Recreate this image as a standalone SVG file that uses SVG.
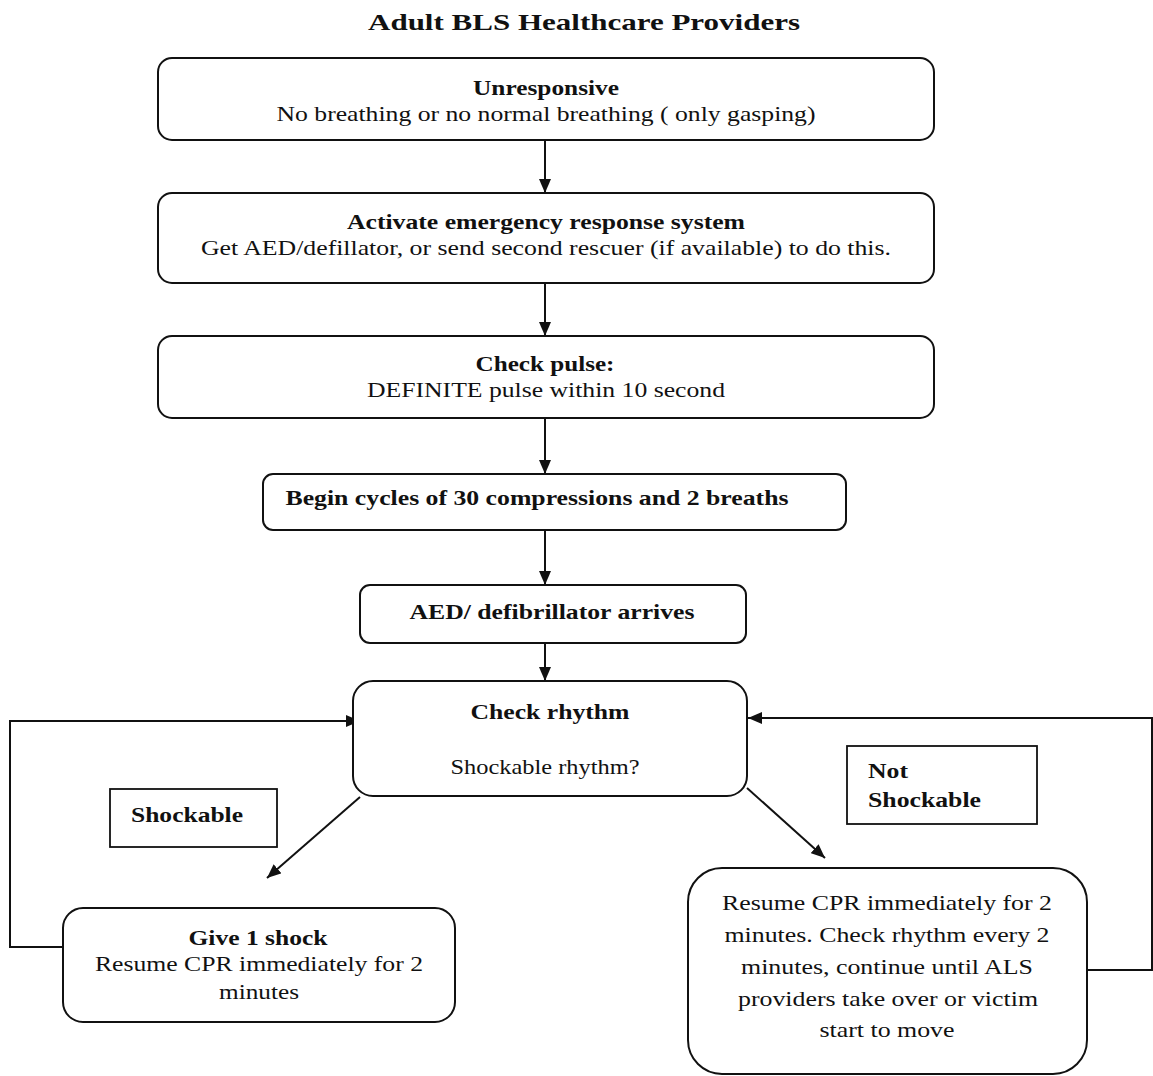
<svg xmlns="http://www.w3.org/2000/svg" width="1153" height="1076" viewBox="0 0 1153 1076">
<style>
text{font-family:'Liberation Serif','Times New Roman',Tinos,'Nimbus Roman',Times,serif;font-size:21px;fill:#111;text-anchor:middle}
.b{font-weight:bold}
.title{font-size:24px;font-weight:bold}
.box{fill:#fff;stroke:#111;stroke-width:2}
.lbl{fill:#fff;stroke:#111;stroke-width:1.8}
.conn path{fill:none;stroke:#111;stroke-width:2}
</style>
<defs>
<marker id="ah" viewBox="0 0 14 12" refX="14" refY="6" markerWidth="14" markerHeight="12" markerUnits="userSpaceOnUse" orient="auto">
<path d="M0,0 L14,6 L0,12 Z" fill="#111"/>
</marker>
</defs>
<rect width="1153" height="1076" fill="#fff"/>
<text class="title" x="584" y="30" textLength="432" lengthAdjust="spacingAndGlyphs" font-family="Liberation Serif, serif">Adult BLS Healthcare Providers</text>

<g class="conn">
<path d="M545,140 V193" marker-end="url(#ah)"/>
<path d="M545,283 V336" marker-end="url(#ah)"/>
<path d="M545,418 V474" marker-end="url(#ah)"/>
<path d="M545,530 V585" marker-end="url(#ah)"/>
<path d="M545,643 V681" marker-end="url(#ah)"/>
<path d="M360,797 L267,878" marker-end="url(#ah)"/>
<path d="M747,788 L825,858" marker-end="url(#ah)"/>
<path d="M63,947 H10 V721 H360" marker-end="url(#ah)"/>
<path d="M1087,970 H1152 V718 H748" marker-end="url(#ah)"/>
</g>

<g id="n-unresponsive">
<rect class="box" x="158" y="58" width="776" height="82" rx="14"/>
<text class="b" x="546" y="95" textLength="146" lengthAdjust="spacingAndGlyphs">Unresponsive</text>
<text x="546" y="121" textLength="539" lengthAdjust="spacingAndGlyphs">No breathing or no normal breathing ( only gasping)</text>
</g>
<g id="n-activate">
<rect class="box" x="158" y="193" width="776" height="90" rx="14"/>
<text class="b" x="546" y="229" textLength="398" lengthAdjust="spacingAndGlyphs">Activate emergency response system</text>
<text x="546" y="255" textLength="690" lengthAdjust="spacingAndGlyphs">Get AED/defillator, or send second rescuer (if available) to do this.</text>
</g>
<g id="n-pulse">
<rect class="box" x="158" y="336" width="776" height="82" rx="14"/>
<text class="b" x="545" y="371" textLength="139" lengthAdjust="spacingAndGlyphs">Check pulse:</text>
<text x="546" y="397" textLength="358" lengthAdjust="spacingAndGlyphs">DEFINITE pulse within 10 second</text>
</g>
<g id="n-cycles">
<rect class="box" x="263" y="474" width="583" height="56" rx="10"/>
<text class="b" x="537" y="505" textLength="503" lengthAdjust="spacingAndGlyphs">Begin cycles of 30 compressions and 2 breaths</text>
</g>
<g id="n-aed">
<rect class="box" x="360" y="585" width="386" height="58" rx="10"/>
<text class="b" x="552" y="619" textLength="285" lengthAdjust="spacingAndGlyphs">AED/ defibrillator arrives</text>
</g>
<g id="n-rhythm">
<rect class="box" x="353" y="681" width="394" height="115" rx="20"/>
<text class="b" x="550" y="719" textLength="159" lengthAdjust="spacingAndGlyphs">Check rhythm</text>
<text x="545" y="774" textLength="189" lengthAdjust="spacingAndGlyphs">Shockable rhythm?</text>
</g>
<g id="l-shockable">
<rect class="lbl" x="110" y="789" width="167" height="58"/>
<text class="b" x="187" y="822" textLength="112" lengthAdjust="spacingAndGlyphs">Shockable</text>
</g>
<g id="l-notshockable">
<rect class="lbl" x="847" y="746" width="190" height="78"/>
<text class="b" x="888" y="778" textLength="40" lengthAdjust="spacingAndGlyphs">Not</text>
<text class="b" x="924.5" y="807" textLength="113" lengthAdjust="spacingAndGlyphs">Shockable</text>
</g>
<g id="n-shock">
<rect class="box" x="63" y="908" width="392" height="114" rx="20"/>
<text class="b" x="258" y="945" textLength="139" lengthAdjust="spacingAndGlyphs">Give 1 shock</text>
<text x="259" y="971" textLength="328" lengthAdjust="spacingAndGlyphs">Resume CPR immediately for 2</text>
<text x="259" y="999" textLength="80" lengthAdjust="spacingAndGlyphs">minutes</text>
</g>
<g id="n-resume">
<rect class="box" x="688" y="868" width="399" height="206" rx="34"/>
<text x="887" y="910" textLength="330" lengthAdjust="spacingAndGlyphs">Resume CPR immediately for 2</text>
<text x="887" y="942" textLength="325" lengthAdjust="spacingAndGlyphs">minutes. Check rhythm every 2</text>
<text x="887" y="974" textLength="292" lengthAdjust="spacingAndGlyphs">minutes, continue until ALS</text>
<text x="888" y="1006" textLength="300" lengthAdjust="spacingAndGlyphs">providers take over or victim</text>
<text x="887" y="1037" textLength="135" lengthAdjust="spacingAndGlyphs">start to move</text>
</g>
</svg>
